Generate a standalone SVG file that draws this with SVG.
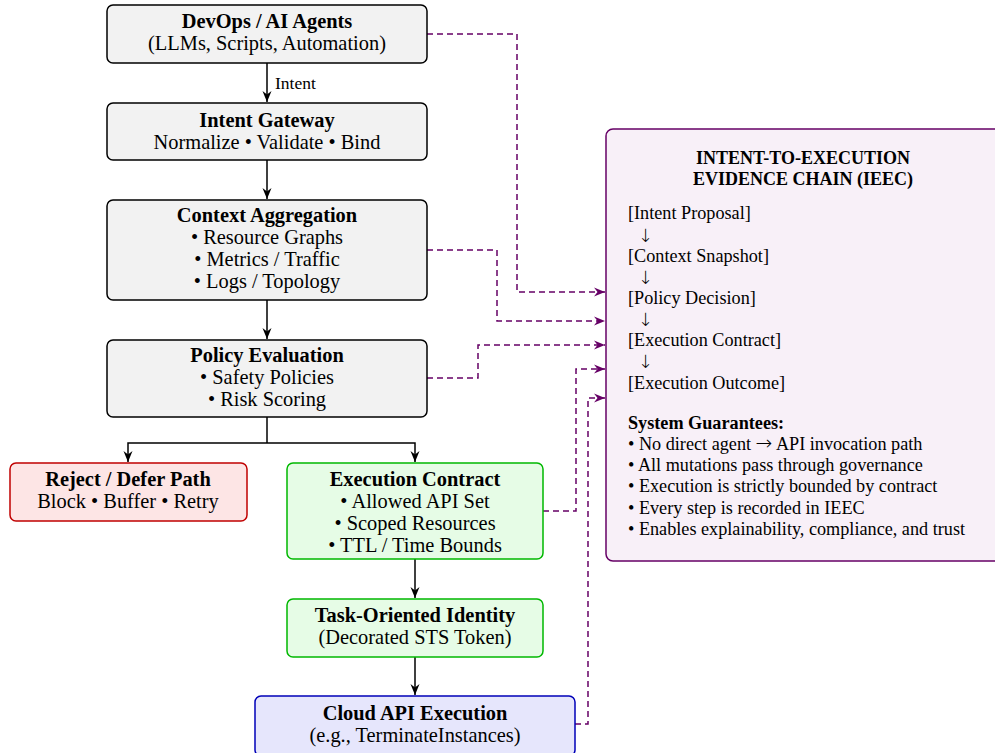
<svg xmlns="http://www.w3.org/2000/svg" width="995" height="753" viewBox="0 0 995 753">
<defs>
<marker id="ah" markerUnits="userSpaceOnUse" markerWidth="12" markerHeight="10" refX="11" refY="5" orient="auto">
<path d="M0,0.5 L11,5 L0,9.5 L3.5,5 Z" fill="#000"/>
</marker>
<marker id="ap" markerUnits="userSpaceOnUse" markerWidth="12" markerHeight="10" refX="11" refY="5" orient="auto">
<path d="M0,0.5 L11,5 L0,9.5 L3.5,5 Z" fill="#660066"/>
</marker>
<style>
text{font-family:"Liberation Serif","Times New Roman",serif;fill:#000}
.n text{font-size:20.4px;text-anchor:middle}
.b{font-weight:bold}
.gray{fill:#f2f2f2;stroke:#000;stroke-width:1.5}
.red{fill:#fde5e5;stroke:#c00000;stroke-width:1.5}
.green{fill:#e6fce6;stroke:#00b800;stroke-width:1.5}
.blue{fill:#e6e6fc;stroke:#0000b8;stroke-width:1.5}
.flow{fill:none;stroke:#000;stroke-width:1.5}
.ev{fill:none;stroke:#660066;stroke-width:1.5;stroke-dasharray:6 4}
.ie text{font-size:18.2px}
.ar{font-family:"DejaVu Sans",sans-serif;font-weight:200}
</style>
</defs>

<g id="connectors">
<path class="flow" d="M267,63 V102" marker-end="url(#ah)"/>
<path class="flow" d="M267,160 V199" marker-end="url(#ah)"/>
<path class="flow" d="M267,300 V339" marker-end="url(#ah)"/>
<path class="flow" d="M267,417 V443"/>
<path class="flow" d="M267,443 H128 V462" marker-end="url(#ah)"/>
<path class="flow" d="M267,443 H415 V462" marker-end="url(#ah)"/>
<path class="flow" d="M415,559 V598" marker-end="url(#ah)"/>
<path class="flow" d="M415,657 V695" marker-end="url(#ah)"/>
<text x="275" y="89" style="font-size:17.5px">Intent</text>
<path class="ev" d="M427,34 H517 V292 H605" marker-end="url(#ap)"/>
<path class="ev" d="M427,250 H497 V321 H605" marker-end="url(#ap)"/>
<path class="ev" d="M427,378 H478 V345 H605" marker-end="url(#ap)"/>
<path class="ev" d="M543,511 H576 V369 H605" marker-end="url(#ap)"/>
<path class="ev" d="M575,724 H588 V398 H605" marker-end="url(#ap)"/>
</g>

<g id="devops" class="n">
<rect class="gray" x="107" y="5" width="320" height="58" rx="6"/>
<text class="b" x="267" y="28">DevOps / AI Agents</text>
<text x="267" y="50">(LLMs, Scripts, Automation)</text>
</g>

<g id="gateway" class="n">
<rect class="gray" x="107" y="103" width="320" height="57" rx="6"/>
<text class="b" x="267" y="127">Intent Gateway</text>
<text x="267" y="149">Normalize • Validate • Bind</text>
</g>

<g id="context" class="n">
<rect class="gray" x="107" y="200" width="320" height="100" rx="6"/>
<text class="b" x="267" y="222">Context Aggregation</text>
<text x="267" y="244">• Resource Graphs</text>
<text x="267" y="266">• Metrics / Traffic</text>
<text x="267" y="288">• Logs / Topology</text>
</g>

<g id="policy" class="n">
<rect class="gray" x="107" y="340" width="320" height="77" rx="6"/>
<text class="b" x="267" y="362">Policy Evaluation</text>
<text x="267" y="384">• Safety Policies</text>
<text x="267" y="406">• Risk Scoring</text>
</g>

<g id="reject" class="n">
<rect class="red" x="10" y="463" width="237" height="58" rx="6"/>
<text class="b" x="128" y="486">Reject / Defer Path</text>
<text x="128" y="508">Block • Buffer • Retry</text>
</g>

<g id="contract" class="n">
<rect class="green" x="287" y="463" width="256" height="96" rx="6"/>
<text class="b" x="415" y="486">Execution Contract</text>
<text x="415" y="508">• Allowed API Set</text>
<text x="415" y="530">• Scoped Resources</text>
<text x="415" y="552">• TTL / Time Bounds</text>
</g>

<g id="identity" class="n">
<rect class="green" x="287" y="599" width="256" height="58" rx="6"/>
<text class="b" x="415" y="622">Task-Oriented Identity</text>
<text x="415" y="644">(Decorated STS Token)</text>
</g>

<g id="cloudapi" class="n">
<rect class="blue" x="255" y="696" width="320" height="60" rx="6"/>
<text class="b" x="415" y="720">Cloud API Execution</text>
<text x="415" y="742">(e.g., TerminateInstances)</text>
</g>

<g id="ieec" class="ie">
<rect x="606" y="129" width="400" height="432" rx="7" fill="#f8f0f8" stroke="#660066" stroke-width="1.5"/>
<text class="b" x="803" y="164" text-anchor="middle" style="font-size:18px">INTENT-TO-EXECUTION</text>
<text class="b" x="803" y="185" text-anchor="middle" style="font-size:18px">EVIDENCE CHAIN (IEEC)</text>
<text x="628" y="219">[Intent Proposal]</text>
<text class="ar" x="638" y="242">↓</text>
<text x="628" y="262">[Context Snapshot]</text>
<text class="ar" x="638" y="284">↓</text>
<text x="628" y="304">[Policy Decision]</text>
<text class="ar" x="638" y="326">↓</text>
<text x="628" y="346">[Execution Contract]</text>
<text class="ar" x="638" y="368">↓</text>
<text x="628" y="389">[Execution Outcome]</text>
<text class="b" x="628" y="429">System Guarantees:</text>
<text x="628" y="450">• No direct agent <tspan class="ar" style="font-size:20px">→</tspan> API invocation path</text>
<text x="628" y="471">• All mutations pass through governance</text>
<text x="628" y="492">• Execution is strictly bounded by contract</text>
<text x="628" y="514">• Every step is recorded in IEEC</text>
<text x="628" y="535">• Enables explainability, compliance, and trust</text>
</g>
</svg>
